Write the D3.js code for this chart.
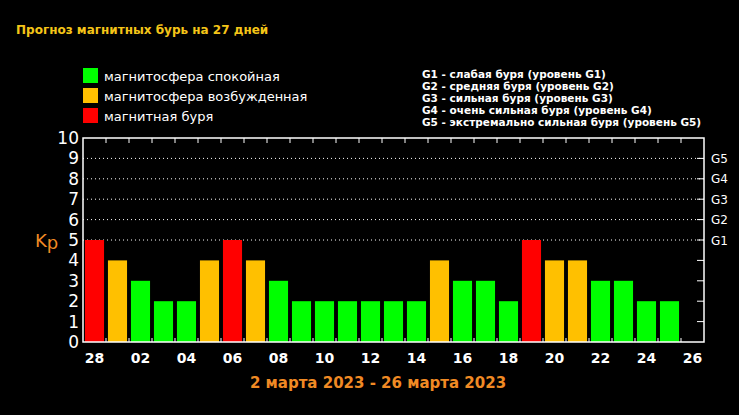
<!DOCTYPE html>
<html>
<head>
<meta charset="utf-8">
<script src="https://cdn.jsdelivr.net/npm/d3@7"></script>
<style>
body { margin: 0; background: #000; }
svg { display: block; }
</style>
</head>
<body>
<div id="chart"></div>
<script>
// days of the forecast (27 slots, last one has no bar)
var days = ["28","01","02","03","04","05","06","07","08","09","10","11","12","13",
	"14","15","16","17","18","19","20","21","22","23","24","25","26"];
var kp = [5,4,3,2,2,4,5,4,3,2,2,2,2,2,2,4,3,3,2,5,4,4,3,3,2,2];
var yTicks = [0,1,2,3,4,5,6,7,8,9,10];
var gLabels = ["G1","G2","G3","G4","G5"];
var gLevels = [5,6,7,8,9];
var legendItems = ["магнитосфера спокойная", "магнитосфера возбужденная", "магнитная буря"];
var legendColors = ["#00ff00", "#ffc000", "#ff0000"];
var gLegend = [
	"G1 - слабая буря (уровень G1)",
	"G2 - средняя буря (уровень G2)",
	"G3 - сильная буря (уровень G3)",
	"G4 - очень сильная буря (уровень G4)",
	"G5 - экстремально сильная буря (уровень G5)"
];

var W = 739, H = 415;
var margin = { top: 138, right: 35, bottom: 73, left: 83 },
	width = W - margin.left - margin.right,
	height = H - margin.top - margin.bottom;

var svg = d3.select("#chart")
	.append("svg")
	.attr("width", W)
	.attr("height", H)
	.style("background", "#000");

function kpColor(v) {
	if (v >= 5) return legendColors[2];
	if (v >= 4) return legendColors[1];
	return legendColors[0];
}

// title
svg.append("text")
	.attr("x", 16).attr("y", 34)
	.attr("fill", "#f5c518")
	.attr("font-family", "DejaVu Sans")
	.attr("font-weight", "bold")
	.attr("font-size", 12)
	.text("Прогноз магнитных бурь на 27 дней");

// legend
var leg = svg.append("g").attr("transform", "translate(83,68)");
leg.selectAll("rect")
	.data(legendItems)
	.enter().append("rect")
	.attr("x", 0)
	.attr("y", function (d, i) { return i * 20; })
	.attr("width", 15).attr("height", 15)
	.attr("fill", function (d, i) { return legendColors[i]; });
leg.selectAll("text")
	.data(legendItems)
	.enter().append("text")
	.attr("x", 21)
	.attr("y", function (d, i) { return i * 20 + 12.5; })
	.attr("fill", "#fff")
	.attr("font-family", "DejaVu Sans")
	.attr("font-size", 13)
	.text(function (d) { return d; });

svg.append("g")
	.selectAll("text")
	.data(gLegend)
	.enter().append("text")
	.attr("x", 422)
	.attr("y", function (d, i) { return 78 + i * 12; })
	.attr("fill", "#fff")
	.attr("font-family", "DejaVu Sans")
	.attr("font-weight", "bold")
	.attr("font-size", 10.5)
	.text(function (d) { return d; });

var g = svg.append("g")
	.attr("transform", "translate(" + margin.left + "," + margin.top + ")");

var x = d3.scaleBand()
	.domain(days)
	.range([0, width])
	.paddingInner(0.17)
	.paddingOuter(0.085);

var xs = d3.scaleBand().domain(days).range([0, width]);

var y = d3.scaleLinear()
	.domain([0, 10])
	.range([height, 0]);

// dotted G-level gridlines
g.selectAll(".grid")
	.data(gLevels)
	.enter().append("line")
	.attr("x1", 0).attr("x2", width)
	.attr("y1", function (d) { return y(d); })
	.attr("y2", function (d) { return y(d); })
	.attr("stroke", "#fff")
	.attr("stroke-width", 1)
	.attr("stroke-dasharray", "1,3");

// bars
g.selectAll(".bar")
	.data(kp)
	.enter().append("rect")
	.attr("x", function (d, i) { return x(days[i]); })
	.attr("width", x.bandwidth())
	.attr("y", function (d) { return y(d); })
	.attr("height", function (d) { return height - y(d); })
	.attr("fill", function (d) { return kpColor(d); });

// frame
g.append("rect")
	.attr("x", 0).attr("y", 0)
	.attr("width", width).attr("height", height)
	.attr("fill", "none")
	.attr("stroke", "#fff")
	.attr("stroke-width", 1.5);

// slot boundary ticks top and bottom
var bounds = days.slice(1);
g.selectAll(".tt")
	.data(bounds)
	.enter().append("line")
	.attr("x1", function (d) { return xs(d); })
	.attr("x2", function (d) { return xs(d); })
	.attr("y1", 0).attr("y2", 5)
	.attr("stroke", "#fff");
g.selectAll(".tb")
	.data(bounds)
	.enter().append("line")
	.attr("x1", function (d) { return xs(d); })
	.attr("x2", function (d) { return xs(d); })
	.attr("y1", height).attr("y2", height - 4)
	.attr("stroke", "#fff");

// right side ticks
g.selectAll(".tr")
	.data(yTicks.slice(1, 10))
	.enter().append("line")
	.attr("x1", width - 7).attr("x2", width)
	.attr("y1", function (d) { return y(d); })
	.attr("y2", function (d) { return y(d); })
	.attr("stroke", "#fff");

// left y labels
g.selectAll(".yl")
	.data(yTicks)
	.enter().append("text")
	.attr("x", -4)
	.attr("y", function (d) { return y(d) + 6; })
	.attr("text-anchor", "end")
	.attr("fill", "#fff")
	.attr("font-family", "DejaVu Sans")
	.attr("font-size", 17)
	.text(function (d) { return d; });

// right G labels
g.selectAll(".gl")
	.data(gLabels)
	.enter().append("text")
	.attr("x", width + 7)
	.attr("y", function (d, i) { return y(gLevels[i]) + 4.5; })
	.attr("fill", "#fff")
	.attr("font-family", "DejaVu Sans")
	.attr("font-size", 12)
	.text(function (d) { return d; });

// bottom day labels, every second day
g.selectAll(".xl")
	.data(days.filter(function (d, i) { return i % 2 === 0; }))
	.enter().append("text")
	.attr("x", function (d) { return xs(d) + xs.bandwidth() / 2; })
	.attr("y", height + 21)
	.attr("text-anchor", "middle")
	.attr("fill", "#fff")
	.attr("font-family", "DejaVu Sans")
	.attr("font-weight", "bold")
	.attr("font-size", 14)
	.text(function (d) { return d; });

// Kp label
svg.append("text")
	.attr("x", 35).attr("y", 247)
	.attr("fill", "#f08a24")
	.attr("font-family", "DejaVu Sans")
	.attr("font-size", 18)
	.text("K")
	.append("tspan")
	.attr("dy", 2)
	.text("p");

// date range
svg.append("text")
	.attr("x", 378).attr("y", 388)
	.attr("text-anchor", "middle")
	.attr("fill", "#f08a24")
	.attr("font-family", "DejaVu Sans")
	.attr("font-weight", "bold")
	.attr("font-size", 15)
	.text("2 марта 2023 - 26 марта 2023");
</script>
</body>
</html>
